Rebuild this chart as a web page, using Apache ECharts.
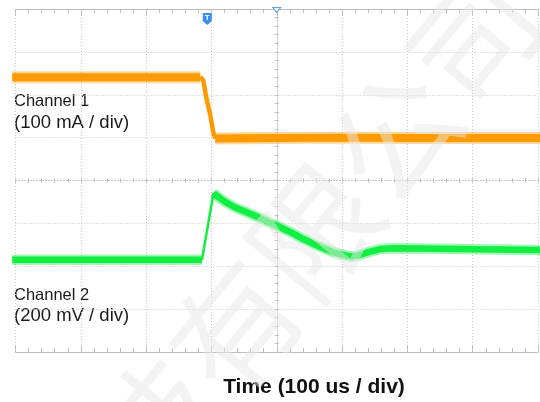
<!DOCTYPE html>
<html>
<head>
<meta charset="utf-8">
<script src="https://cdn.jsdelivr.net/npm/echarts@6/dist/echarts.min.js"></script>
<style>
html, body { margin: 0; background: #fff; }
#chart { width: 540px; height: 402px; }
</style>
</head>
<body>
<div id="chart"></div>
<script>
// time in us, relative to the screen centre (100 us / div)
// channel 1 in mA (100 mA / div), channel 2 in mV (200 mV / div)
var ch1High = [[-405, 241], [-117, 241]];
var ch1Edge = [[-117, 241], [-112.6, 234], [-108, 195], [-101.8, 153], [-97.2, 113], [-94.2, 98]];
var ch1Low = [[-94.2, 98], [0, 99], [100, 100], [200, 99], [300, 99], [403, 99]];

var ch2Base = [[-405, -370], [-114.5, -370]];
var ch2Rise = [[-114.5, -370], [-96.8, -58]];
var ch2Decay = [
  [-96.8, -58], [-89.6, -77], [-78.9, -100], [-63.6, -126], [-45.2, -149],
  [-20.7, -182], [-0.8, -210], [20.7, -240], [40.6, -273], [66.6, -310],
  [89.6, -338], [112.6, -355], [124.8, -350], [140.1, -334], [158.5, -320],
  [181.5, -316], [311.6, -321], [403.5, -324]
];

var triggerTime = -106.4;

var orange = '#ff9a00';
var green = '#12ee42';
var gridColor = '#c6c6c6';

var chart = echarts.init(document.getElementById('chart'));

function frameAxis(pos, split) {
  return {
    type: 'value', min: -400, max: 400, interval: 100, position: pos,
    axisLine: { onZero: false, lineStyle: { color: '#bdbdbd' } },
    axisTick: { inside: true, length: 6, lineStyle: { color: '#bdbdbd' } },
    minorTick: { show: true, splitNumber: 5, length: 4, lineStyle: { color: '#bdbdbd' } },
    axisLabel: { show: false },
    splitLine: { show: split, lineStyle: { color: gridColor, type: [1, 2] } }
  };
}
function centreAxis(inside, min, max, interval) {
  return {
    type: 'value', min: min, max: max, interval: interval,
    axisLine: { onZero: true, onZeroAxisIndex: 0, lineStyle: { color: gridColor, type: [1, 2] } },
    axisTick: { inside: inside, length: 2, lineStyle: { color: '#bdbdbd' } },
    minorTick: { show: true, splitNumber: 5, length: 2, lineStyle: { color: '#bdbdbd' } },
    axisLabel: { show: false },
    splitLine: { show: false }
  };
}

function band(name, data, color, width, yIdx) {
  return [{
    name: name, type: 'line', data: data, yAxisIndex: yIdx, showSymbol: false, clip: false,
    lineStyle: { color: color, width: width + 4, opacity: 0.4 }, silent: true, z: 3
  }, {
    name: name, type: 'line', data: data, yAxisIndex: yIdx, showSymbol: false, clip: false,
    lineStyle: { color: color, width: width }, silent: true, z: 4
  }];
}

var series = [].concat(
  band('Channel 1', ch1High, orange, 8, 0),
  band('Channel 1', ch1Low, orange, 8, 0),
  [{
    name: 'Channel 1', type: 'line', data: ch1Edge, yAxisIndex: 0, showSymbol: false, clip: false,
    lineStyle: { color: orange, width: 4.5 }, z: 4,
    markPoint: {
      symbol: 'path://M1,0 H9 Q10,0 10,1 V8 L5,12 L0,8 V1 Q0,0 1,0 Z',
      symbolSize: [9, 12], silent: true,
      itemStyle: { color: '#3a8ef2' },
      label: { show: true, formatter: 'T', color: '#fff', fontSize: 8, fontWeight: 'bold', offset: [0, -1] },
      data: [{ coord: [triggerTime, 400], symbolOffset: [0, 10] }]
    }
  }],
  band('Channel 2', ch2Base, green, 6.5, 1),
  band('Channel 2', ch2Decay, green, 6.5, 1),
  [{
    name: 'Channel 2', type: 'line', data: ch2Rise, yAxisIndex: 1, showSymbol: false, clip: false,
    lineStyle: { color: green, width: 2.5 }, z: 4,
    markPoint: {
      symbol: 'triangle', symbolRotate: 180, symbolSize: [8, 5], silent: true,
      itemStyle: { color: '#fff', borderColor: '#5ea3f2', borderWidth: 1 },
      label: { show: false },
      data: [{ coord: [0, 800], symbolOffset: [0, 1] }]
    }
  }]
);

chart.setOption({
  animation: false,
  backgroundColor: '#fff',
  grid: { left: 15.5, right: 2, top: 9, bottom: 50 },
  xAxis: [
    frameAxis('bottom', true),
    frameAxis('top', false),
    centreAxis(true, -400, 400, 100),
    centreAxis(false, -400, 400, 100)
  ],
  yAxis: [
    {
      type: 'value', min: -400, max: 400, interval: 100, position: 'left',
      axisLine: { show: false, onZero: false }, axisTick: { show: false }, axisLabel: { show: false },
      splitLine: { show: true, lineStyle: { color: gridColor, type: [1, 2] } }
    },
    {
      type: 'value', min: -800, max: 800, interval: 200, show: false,
      axisLine: { onZero: false }, splitLine: { show: false }
    },
    centreAxis(true, -400, 400, 100),
    centreAxis(false, -400, 400, 100)
  ],
  series: series,
  graphic: [
    { type: 'text', x: 14, y: 101, style: { text: 'Channel 1', font: '16.5px "Liberation Sans", Arial, sans-serif', fill: '#1a1a1a', verticalAlign: 'middle' } },
    { type: 'text', x: 14, y: 123, style: { text: '(100 mA / div)', font: '18.5px "Liberation Sans", Arial, sans-serif', fill: '#1a1a1a', verticalAlign: 'middle' } },
    { type: 'text', x: 14, y: 295, style: { text: 'Channel 2', font: '16.5px "Liberation Sans", Arial, sans-serif', fill: '#1a1a1a', verticalAlign: 'middle' } },
    { type: 'text', x: 14, y: 316, style: { text: '(200 mV / div)', font: '18.5px "Liberation Sans", Arial, sans-serif', fill: '#1a1a1a', verticalAlign: 'middle' } },
    { type: 'text', x: 314, y: 387, style: { text: 'Time (100 us / div)', font: 'bold 21px "Liberation Sans", Arial, sans-serif', fill: '#111', align: 'center', verticalAlign: 'middle' } },
    {
      type: 'text', x: 275, y: 280, rotation: 0.88, z: 100, silent: true,
      style: { text: '科技有限公司', font: '125px "Noto Sans CJK SC"', fill: 'rgba(232,232,232,0.5)', align: 'center', verticalAlign: 'middle' }
    }
  ]
});
</script>
</body>
</html>
